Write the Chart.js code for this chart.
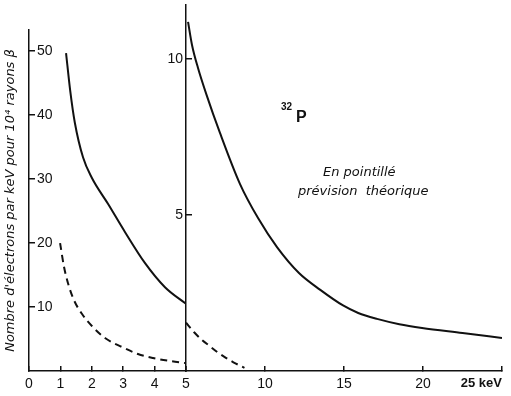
<!DOCTYPE html>
<html>
<head>
<meta charset="utf-8">
<script src="https://cdn.jsdelivr.net/npm/chart.js@4.4.1/dist/chart.umd.min.js"></script>
<style>
  html, body { margin: 0; background: #fff; }
  .panel { position: absolute; left: 0; top: 0; width: 511px; height: 396px; }
</style>
</head>
<body>
<div class="panel"><canvas id="lowChart"></canvas></div>
<div class="panel"><canvas id="highChart"></canvas></div>
<script>
// left panel, 0-5 keV, scale 0-50
const lowKeV = [1.18, 1.31, 1.46, 1.72, 2.0, 2.52, 3.06, 3.69, 4.33, 5.0];
const lowMeasured = [49.7, 43.9, 38.8, 33.4, 30.2, 26.1, 21.7, 16.9, 13.1, 10.5];
const lowTheoryKeV = [0.99, 1.11, 1.24, 1.43, 1.69, 2.01, 2.42, 2.96, 3.47, 3.95, 4.49, 4.97];
const lowTheory = [20.0, 16.4, 13.75, 11.1, 8.9, 7.0, 5.15, 3.75, 2.65, 2.03, 1.56, 1.25];
const lowXTicks = [0, 1, 2, 3, 4, 5];
const lowXLabels = ['0', '1', '2', '3', '4', '5'];
const lowYTicks = [10, 20, 30, 40, 50];

// right panel, 5-25 keV, scale 0-10
const highKeV = [5.13, 5.38, 5.76, 6.3, 7.15, 8.42, 9.56, 10.76, 12.15, 13.5, 14.94, 15.9, 17.09, 18.5, 19.94, 22.5, 25];
const highMeasured = [11.19, 10.45, 9.71, 8.85, 7.63, 5.99, 4.9, 3.97, 3.14, 2.6, 2.1, 1.86, 1.67, 1.5, 1.38, 1.22, 1.06];
const highTheoryKeV = [5.0, 5.5, 6.0, 6.5, 7.0, 7.5, 8.0, 8.7];
const highTheory = [1.55, 1.25, 1.0, 0.8, 0.6, 0.43, 0.28, 0.1];
const highXTicks = [5, 10, 15, 20, 25];
const highXLabels = ['', '10', '15', '20', '25 keV'];
const highYTicks = [5, 10];

const ink = '#111';
Chart.defaults.font.family = "'Liberation Sans', Arial, sans-serif";
Chart.defaults.color = ink;

const pts = (xs, ys) => xs.map((x, i) => ({ x: x, y: ys[i] }));

const solid = (data) => ({
  data: data, borderColor: ink, borderWidth: 2, pointRadius: 0,
  cubicInterpolationMode: 'monotone'
});
const dashed = (data) => ({
  data: data, borderColor: ink, borderWidth: 2, pointRadius: 0,
  borderDash: [7, 5], cubicInterpolationMode: 'monotone'
});

const fixTicks = (values) => (axis) => { axis.ticks = values.map(v => ({ value: v })); };
const noPad = (size, key) => (s) => {
  s[key] = size;
  s.paddingTop = 0; s.paddingBottom = 0; s.paddingLeft = 0; s.paddingRight = 0;
};

const axisLine = { display: true, color: ink, width: 1.5 };
const tickMarks = { drawOnChartArea: false, drawTicks: true, tickLength: -6, color: ink, lineWidth: 1.5 };

new Chart(document.getElementById('lowChart'), {
  type: 'line',
  data: {
    datasets: [solid(pts(lowKeV, lowMeasured)), dashed(pts(lowTheoryKeV, lowTheory))]
  },
  options: {
    responsive: true, maintainAspectRatio: false, animation: false,
    layout: { padding: { left: 0, top: 30, right: 325, bottom: 0 } },
    plugins: { legend: { display: false }, tooltip: { enabled: false } },
    scales: {
      x: {
        type: 'linear', min: 0, max: 5,
        afterBuildTicks: fixTicks(lowXTicks),
        afterFit: noPad(25, 'height'),
        border: axisLine,
        grid: Object.assign({}, tickMarks, { tickLength: -5 }),
        ticks: { padding: 10, font: { size: 14 }, callback: (v, i) => lowXLabels[i] }
      },
      y: {
        type: 'linear', min: 0, max: 53.3,
        afterBuildTicks: fixTicks(lowYTicks),
        afterFit: noPad(29, 'width'),
        border: axisLine,
        grid: tickMarks,
        ticks: { mirror: true, padding: 8, font: { size: 14 } },
        title: {
          display: true,
          text: "Nombre d'électrons par keV pour 10⁴ rayons β",
          font: { family: "'DejaVu Sans', sans-serif", size: 13, style: 'italic' },
          padding: { top: 3, bottom: 0 }
        }
      }
    }
  }
});

const notes = {
  id: 'notes',
  afterDraw(chart) {
    const ctx = chart.ctx;
    ctx.save();
    ctx.fillStyle = ink;
    ctx.textBaseline = 'alphabetic';
    ctx.font = "bold 10px 'Liberation Sans', Arial, sans-serif";
    ctx.fillText('32', 281, 110);
    ctx.font = "bold 16px 'Liberation Sans', Arial, sans-serif";
    ctx.fillText('P', 296, 122);
    ctx.font = "italic 13px 'DejaVu Sans', sans-serif";
    ctx.fillText('En pointillé', 323, 176);
    ctx.fillText('prévision  théorique', 298, 195);
    ctx.restore();
  }
};

new Chart(document.getElementById('highChart'), {
  type: 'line',
  data: {
    datasets: [solid(pts(highKeV, highMeasured)), dashed(pts(highTheoryKeV, highTheory))]
  },
  options: {
    responsive: true, maintainAspectRatio: false, animation: false,
    layout: { padding: { left: 0, top: 5, right: 9, bottom: 0 } },
    plugins: { legend: { display: false }, tooltip: { enabled: false } },
    scales: {
      x: {
        type: 'linear', min: 5, max: 25,
        afterBuildTicks: fixTicks(highXTicks),
        afterFit: noPad(25, 'height'),
        border: axisLine,
        grid: Object.assign({}, tickMarks, { tickLength: -5 }),
        ticks: {
          padding: 10, align: 'inner',
          font: (c) => c.index === highXTicks.length - 1 ? { size: 13, weight: 'bold' } : { size: 14 },
          callback: (v, i) => highXLabels[i]
        }
      },
      y: {
        type: 'linear', min: 0, max: 11.73,
        afterBuildTicks: fixTicks(highYTicks),
        afterFit: noPad(186, 'width'),
        border: axisLine,
        grid: tickMarks,
        ticks: { padding: 9, font: { size: 14 } }
      }
    }
  },
  plugins: [notes]
});
</script>
</body>
</html>
